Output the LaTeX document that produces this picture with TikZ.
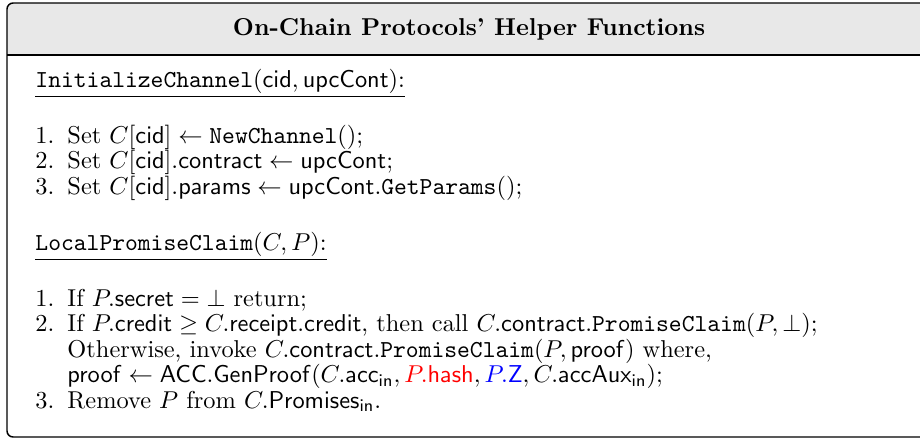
\documentclass[tikz,border=0pt]{standalone}
\usepackage{amsmath,amssymb}
\usepackage{xcolor}
\newcommand\stepline[4]{\node[txt] (#1) at (#2,#3) {#4};}

\begin{document}
\begin{tikzpicture}[x=0.41pt,y=-0.41pt,
  txt/.style={anchor=base west,inner sep=0pt},
  frame/.style={draw,line width=0.6pt,rounded corners=2.5pt}]
\useasboundingbox (0,0) rectangle (920,440);
% grey title band, then the frame over it
\fill[black!9] (7,55) [rounded corners=2.5pt] -- (7,3) -- (931,3) [sharp corners] -- (931,55) -- cycle;
\draw[frame] (7,3) rectangle (931,437);
\draw[line width=0.6pt] (7,55) -- (931,55);
\node[anchor=base,inner sep=0pt] (title) at (469,35) {\textbf{On-Chain Protocols' Helper Functions}};

% first routine
\stepline{initch}{35}{87}{\underline{\texttt{InitializeChannel}$(\mathsf{cid}, \mathsf{upcCont})$:}}
\foreach \n/\y in {1/143,2/168.5,3/194} \node[txt] (inum\n) at (35,\y) {\n.};
\stepline{iset1}{67}{143}{Set $C[\mathsf{cid}] \gets \mathtt{NewChannel}()$;}
\stepline{iset2}{67}{168.5}{Set $C[\mathsf{cid}].\mathsf{contract} \gets \mathsf{upcCont}$;}
\stepline{iset3}{67}{194}{Set $C[\mathsf{cid}].\mathsf{params} \gets \mathsf{upcCont}.\mathtt{GetParams}()$;}

% second routine
\stepline{lpclaim}{35}{250}{\underline{\texttt{LocalPromiseClaim}$(C, P)$:}}
\foreach \n/\y in {1/306,2/331.5,3/408} \node[txt] (lnum\n) at (35,\y) {\n.};
\stepline{lif1}{67}{306}{If $P.\mathsf{secret} = \bot$ return;}
\stepline{lif2}{67}{331.5}{If $P.\mathsf{credit} \geq C.\mathsf{receipt}.\mathsf{credit}$, then call $C.\mathsf{contract}.\mathtt{PromiseClaim}(P, \bot)$;}
\stepline{lelse}{67}{357}{Otherwise, invoke $C.\mathsf{contract}.\mathtt{PromiseClaim}(P, \mathsf{proof})$ where,}
\stepline{lproof}{67}{382.5}{$\mathsf{proof} \gets \mathsf{ACC.GenProof}(C.\mathsf{acc}_{\mathsf{in}}, \textcolor{red}{P.\mathsf{hash}}, \textcolor{blue}{P.\mathsf{Z}}, C.\mathsf{accAux}_{\mathsf{in}})$;}
\stepline{lrem}{67}{408}{Remove $P$ from $C.\mathsf{Promises}_{\mathsf{in}}$.}
\end{tikzpicture}
\end{document}
